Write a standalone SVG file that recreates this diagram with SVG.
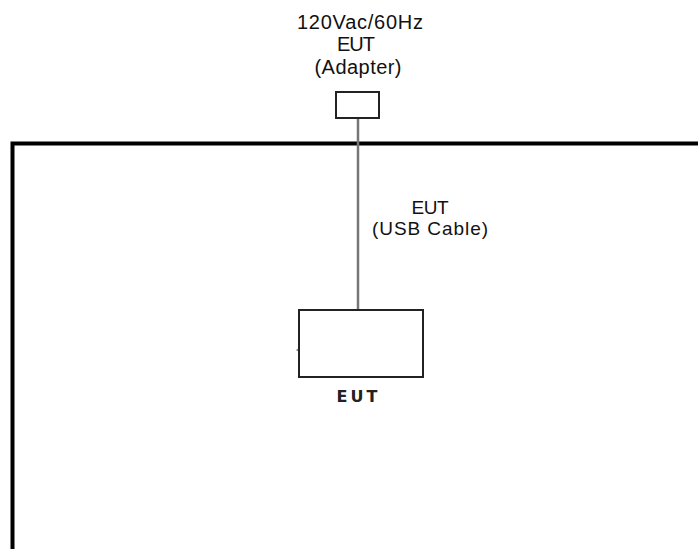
<svg xmlns="http://www.w3.org/2000/svg" width="698" height="549" viewBox="0 0 698 549">
<style>
.t{font-family:"Liberation Sans",Arial,sans-serif;font-size:20px;fill:#111;text-anchor:middle}
.s{font-size:19px}
.b{font-family:"DejaVu Sans",sans-serif;font-size:16px;font-weight:bold;fill:#222;text-anchor:middle}
.box{fill:#fff;stroke:#222;stroke-width:2}
</style>
<rect width="698" height="549" fill="#fff"/>
<g id="connectors">
<path id="frame" d="M12.5,549 V143.5 H698" fill="none" stroke="#000" stroke-width="4"/>
<line id="usb-cable" x1="358" y1="118" x2="358" y2="310" stroke="#777" stroke-width="2.5"/>
</g>
<g id="adapter">
<text class="t" x="360" y="29" textLength="126" lengthAdjust="spacing">120Vac/60Hz</text>
<text class="t" x="356" y="51" textLength="38" lengthAdjust="spacing">EUT</text>
<text class="t" x="358" y="74" textLength="87" lengthAdjust="spacing">(Adapter)</text>
<rect class="box" x="336" y="92" width="43" height="26"/>
</g>
<g id="cable-label">
<text class="t s" x="430" y="214" textLength="37" lengthAdjust="spacing">EUT</text>
<text class="t s" x="430" y="235" textLength="116" lengthAdjust="spacing">(USB Cable)</text>
</g>
<g id="eut">
<rect class="box" x="299" y="310" width="124" height="67"/>
<line x1="296.5" y1="350" x2="299" y2="350" stroke="#222" stroke-width="1"/>
<text class="b" x="357" y="402" textLength="41" lengthAdjust="spacing">EUT</text>
</g>
</svg>
